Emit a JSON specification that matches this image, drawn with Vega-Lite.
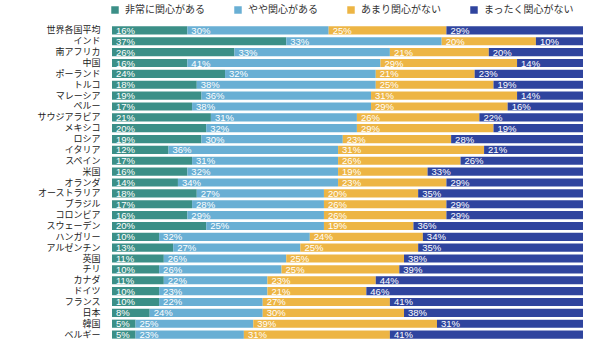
{
 "$schema": "https://vega.github.io/schema/vega-lite/v6.json",
 "width": 471, "height": 315,
 "autosize": {"type": "none"},
 "padding": {"left": 112, "top": 25, "right": 17, "bottom": 14},
 "config": {"view": {"stroke": null}, "font": "Noto Sans CJK JP"},
 "datasets": {"wide": [
  {"c":"世界各国平均","a":16,"b":30,"d":25,"e":29},
  {"c":"インド","a":37,"b":33,"d":20,"e":10},
  {"c":"南アフリカ","a":26,"b":33,"d":21,"e":20},
  {"c":"中国","a":16,"b":41,"d":29,"e":14},
  {"c":"ポーランド","a":24,"b":32,"d":21,"e":23},
  {"c":"トルコ","a":18,"b":38,"d":25,"e":19},
  {"c":"マレーシア","a":19,"b":36,"d":31,"e":14},
  {"c":"ペルー","a":17,"b":38,"d":29,"e":16},
  {"c":"サウジアラビア","a":21,"b":31,"d":26,"e":22},
  {"c":"メキシコ","a":20,"b":32,"d":29,"e":19},
  {"c":"ロシア","a":19,"b":30,"d":23,"e":28},
  {"c":"イタリア","a":12,"b":36,"d":31,"e":21},
  {"c":"スペイン","a":17,"b":31,"d":26,"e":26},
  {"c":"米国","a":16,"b":32,"d":19,"e":33},
  {"c":"オランダ","a":14,"b":34,"d":23,"e":29},
  {"c":"オーストラリア","a":18,"b":27,"d":20,"e":35},
  {"c":"ブラジル","a":17,"b":28,"d":26,"e":29},
  {"c":"コロンビア","a":16,"b":29,"d":26,"e":29},
  {"c":"スウェーデン","a":20,"b":25,"d":19,"e":36},
  {"c":"ハンガリー","a":10,"b":32,"d":24,"e":34},
  {"c":"アルゼンチン","a":13,"b":27,"d":25,"e":35},
  {"c":"英国","a":11,"b":26,"d":25,"e":38},
  {"c":"チリ","a":10,"b":26,"d":25,"e":39},
  {"c":"カナダ","a":11,"b":22,"d":23,"e":44},
  {"c":"ドイツ","a":10,"b":23,"d":21,"e":46},
  {"c":"フランス","a":10,"b":22,"d":27,"e":41},
  {"c":"日本","a":8,"b":24,"d":30,"e":38},
  {"c":"韓国","a":5,"b":25,"d":39,"e":31},
  {"c":"ベルギー","a":5,"b":23,"d":31,"e":41}
 ]},
 "data": {"name": "wide"},
 "transform": [
  {"fold": ["a", "b", "d", "e"], "as": ["k", "v"]},
  {"lookup": "k", "from": {"data": {"values": [
     {"k":"a","cat":"非常に関心がある"},
     {"k":"b","cat":"やや関心がある"},
     {"k":"d","cat":"あまり関心がない"},
     {"k":"e","cat":"まったく関心がない"}]}, "key": "k", "fields": ["cat"]}},
  {"stack": "v", "groupby": ["c"], "sort": [{"field": "k"}], "offset": "normalize", "as": ["v0", "v1"]}
 ],
 "encoding": {
  "y": {"field": "c", "type": "nominal", "sort": null, "title": null,
        "scale": {"paddingInner": 0.25, "paddingOuter": 0.125},
        "axis": {"ticks": false, "domain": false, "labelPadding": 12, "labelFontSize": 9, "labelColor": "#222", "labelLimit": 200}}
 },
 "layer": [
  {"mark": {"type": "bar"},
   "encoding": {
    "x": {"field": "v0", "type": "quantitative", "axis": null, "scale": {"domain": [0, 1], "nice": false}},
    "x2": {"field": "v1"},
    "color": {"field": "cat", "type": "nominal",
      "scale": {"domain": ["非常に関心がある","やや関心がある","あまり関心がない","まったく関心がない"],
                "range": ["#3b8f87","#69afd4","#edb544","#2f449e"]},
      "legend": {"title": null, "orient": "none", "legendX": -2, "legendY": -20, "direction": "horizontal",
                 "symbolType": "square", "symbolSize": 56, "symbolStrokeWidth": 0, "symbolOpacity": 1,
                 "labelFontSize": 10, "labelColor": "#333", "labelOffset": 5, "columnPadding": 28}}
   }},
  {"mark": {"type": "text", "align": "left", "baseline": "middle", "dx": 4, "dy": 0.5, "fontSize": 9.5, "font": "Liberation Sans", "color": "white",
            "text": {"expr": "datum.v + '%'"}},
   "encoding": {
    "x": {"field": "v0", "type": "quantitative"}
   }}
 ]
}
